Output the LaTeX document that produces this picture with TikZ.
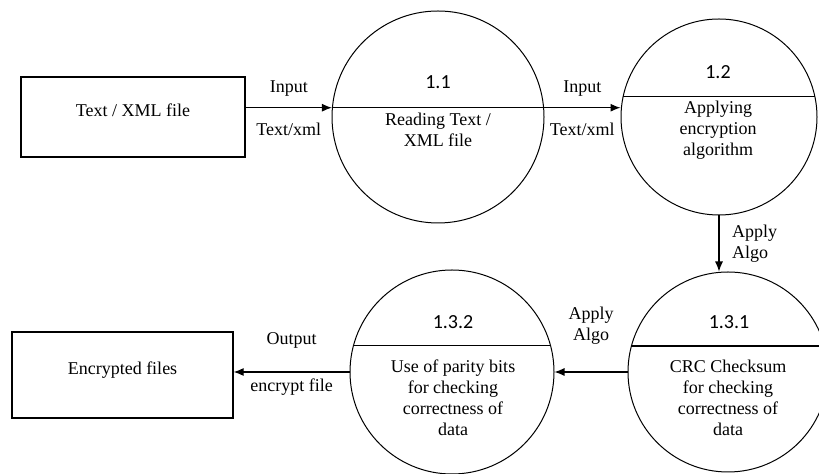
\documentclass[tikz,border=0pt]{standalone}
\usepackage{fontspec}
\usetikzlibrary{arrows.meta}
\setmainfont{Liberation Serif}
\newfontfamily\numfont{Carlito}
\begin{document}
\begin{tikzpicture} [
        x=0.5pt, y=-0.5pt,
        store/.style={draw, rectangle, line width=0.65pt, text height=6pt, text depth=6pt},
        proc/.style={draw, circle, line width=0.5pt, inner sep=0pt},
        num/.style={font=\numfont\fontsize{10}{12}\selectfont},
        flow/.style={->, line width=0.55pt},
        font=\fontsize{9}{10.5}\selectfont,
        align=center,
        >={Latex[length=5pt,width=4pt]} ]
    \useasboundingbox (0,0) rectangle (819,474);
    % external entities
    \node[store, minimum width=112pt, minimum height=40pt] (src) at (133,117) {Text / XML file};
    \node[store, minimum width=110.5pt, minimum height=43pt] (dst) at (122.5,375) {Encrypted files};
    % processes
    \node[proc, minimum size=106pt] (c11) at (438,117) {};
    \node[proc, minimum size=98pt] (c12) at (719,117) {};
    \node[proc, minimum size=100pt] (c131) at (728,372) {};
    \node[proc, minimum size=102pt] (c132) at (452,372) {};
    \draw[line width=0.55pt] (c11.175) -- (c11.5);
    \draw[line width=0.55pt] (c12.168) -- (c12.12);
    \draw[line width=0.55pt] (c131.165) -- (c131.15);
    \draw[line width=0.55pt] (c132.165) -- (c132.15);
    \node[num] (n11) at (438,82) {1.1};
    \node (t11) at (438,129.5) {Reading Text /\\XML file};
    \node[num] (n12) at (718,72) {1.2};
    \node (t12) at (718,130) {Applying\\encryption\\algorithm};
    \node[num] (n131) at (729,322) {1.3.1};
    \node (t131) at (728,397.5) {CRC Checksum\\for checking\\correctness of\\data};
    \node[num] (n132) at (453,322) {1.3.2};
    \node (t132) at (453,397.5) {Use of parity bits\\for checking\\correctness of\\data};
    % flows
    \draw[flow] (src.east |- c11.175) -- node[above=2pt] {Input} node[below=4pt] {Text/xml} (c11.175);
    \draw[flow] (c11.5) -- node[above=2pt] {Input} node[below=4pt] {Text/xml} (c11.5 -| c12.west);
    \draw[flow] (c12.south) -- node[right=3pt, align=left] {Apply\\Algo} (c12.south |- c131.north);
    \draw[flow] (c131.west) -- node[above=10pt] {Apply\\Algo} (c132.east);
    \draw[flow] (c132.west) -- node[above=8pt] {Output} node[below] {encrypt file} (dst.east |- c132.west);
\end{tikzpicture}
\end{document}
